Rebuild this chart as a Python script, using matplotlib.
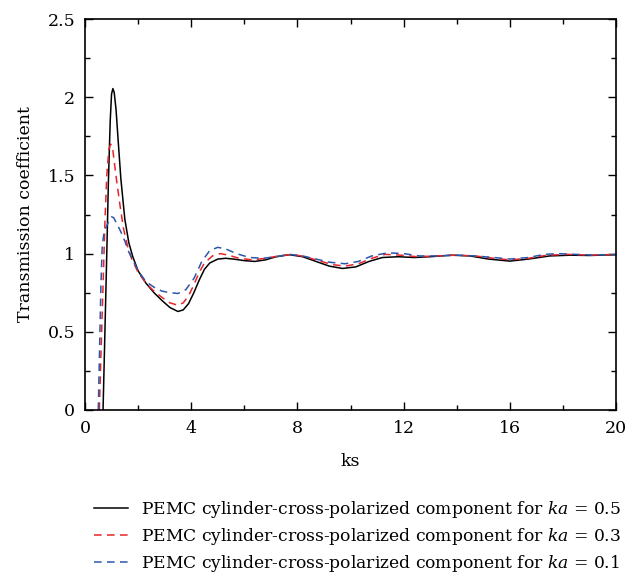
import matplotlib
matplotlib.use("Agg")
import matplotlib.pyplot as plt
from matplotlib.ticker import MultipleLocator

# valeurs (ks, coefficient de transmission)
ks_05 = [0.68, 0.75, 0.82, 0.88, 0.95, 1.0, 1.05, 1.1, 1.17, 1.25, 1.35, 1.5, 1.65, 1.8, 2.0,
         2.3, 2.6, 2.9, 3.2, 3.5, 3.7, 3.9, 4.1, 4.3, 4.5, 4.7, 5.0, 5.3, 5.6, 6.0, 6.4, 6.8,
         7.2, 7.7, 8.2, 8.7, 9.2, 9.7, 10.2, 10.7, 11.2, 11.8, 12.4, 13.0, 13.8, 14.5, 15.2,
         16.0, 16.7, 17.5, 18.3, 19.0, 20.0]
t_05 = [0.0, 0.5, 1.0, 1.45, 1.85, 2.02, 2.055, 2.03, 1.92, 1.72, 1.48, 1.22, 1.07, 0.98, 0.89,
        0.81, 0.75, 0.70, 0.655, 0.63, 0.64, 0.68, 0.75, 0.83, 0.90, 0.94, 0.965, 0.97, 0.965,
        0.955, 0.95, 0.96, 0.98, 0.993, 0.98, 0.95, 0.92, 0.905, 0.915, 0.95, 0.975, 0.98,
        0.975, 0.98, 0.99, 0.985, 0.965, 0.952, 0.965, 0.985, 0.99, 0.988, 0.993]

ks_03 = [0.54, 0.6, 0.68, 0.75, 0.82, 0.9, 0.97, 1.05, 1.15, 1.3, 1.45, 1.6, 1.75, 2.0, 2.3,
         2.6, 2.9, 3.2, 3.5, 3.7, 3.9, 4.1, 4.3, 4.5, 4.8, 5.1, 5.4, 5.8, 6.3, 6.8, 7.3, 7.8,
         8.3, 8.8, 9.3, 9.8, 10.3, 10.8, 11.3, 11.9, 12.5, 13.2, 14.0, 14.7, 15.4, 16.0, 16.7,
         17.4, 18.2, 19.0, 20.0]
t_03 = [0.0, 0.35, 0.8, 1.2, 1.5, 1.67, 1.70, 1.66, 1.52, 1.33, 1.16, 1.05, 0.97, 0.88, 0.81,
        0.76, 0.72, 0.685, 0.67, 0.685, 0.73, 0.80, 0.88, 0.94, 0.985, 1.0, 0.99, 0.97, 0.96,
        0.97, 0.985, 0.995, 0.98, 0.955, 0.93, 0.92, 0.935, 0.97, 0.995, 0.99, 0.98, 0.985,
        0.99, 0.985, 0.97, 0.96, 0.97, 0.99, 0.995, 0.99, 0.995]

ks_01 = [0.5, 0.55, 0.6, 0.65, 0.72, 0.8, 0.9, 1.0, 1.08, 1.2, 1.35, 1.5, 1.65, 1.8, 2.0, 2.3,
         2.6, 2.9, 3.2, 3.5, 3.8, 4.1, 4.4, 4.7, 5.0, 5.3, 5.7, 6.2, 6.7, 7.2, 7.7, 8.2, 8.7,
         9.2, 9.8, 10.3, 10.8, 11.4, 12.0, 12.6, 13.3, 14.0, 14.7, 15.4, 16.0, 16.7, 17.3,
         17.8, 18.5, 19.2, 20.0]
t_01 = [0.0, 0.4, 0.8, 1.05, 1.14, 1.17, 1.21, 1.235, 1.23, 1.19, 1.14, 1.08, 1.01, 0.96, 0.89,
        0.82, 0.785, 0.76, 0.75, 0.745, 0.77, 0.84, 0.95, 1.02, 1.04, 1.03, 1.0, 0.975, 0.97,
        0.98, 0.995, 0.985, 0.965, 0.945, 0.935, 0.95, 0.985, 1.005, 1.0, 0.985, 0.985, 0.99,
        0.985, 0.975, 0.965, 0.975, 0.995, 1.0, 0.995, 0.99, 0.995]

labels = ['PEMC cylinder-cross-polarized component for $ka$ = 0.5',
          'PEMC cylinder-cross-polarized component for $ka$ = 0.3',
          'PEMC cylinder-cross-polarized component for $ka$ = 0.1']

plt.rcParams['font.family'] = 'DejaVu Serif'
plt.rcParams['mathtext.fontset'] = 'dejavuserif'
plt.rcParams['font.size'] = 12.5

fig = plt.figure(figsize=(6.27, 5.82), dpi=100)
ax = fig.add_axes([85 / 627, 1 - 410 / 582, 531 / 627, 391 / 582])

ax.plot(ks_05, t_05, color='black', lw=1.1, label=labels[0])
ax.plot(ks_03, t_03, color='#e8252b', lw=1.1, ls=(0, (5, 3.5)), label=labels[1])
ax.plot(ks_01, t_01, color='#2d56a8', lw=1.1, ls=(0, (5, 3.5)), label=labels[2])

ax.set_xlim(0, 20)
ax.set_ylim(0, 2.5)
ax.xaxis.set_major_locator(MultipleLocator(4))
ax.xaxis.set_minor_locator(MultipleLocator(2))
ax.yaxis.set_major_locator(MultipleLocator(0.5))
ax.yaxis.set_minor_locator(MultipleLocator(0.25))
ax.yaxis.set_major_formatter(plt.FuncFormatter(lambda v, p: '%g' % v))
ax.tick_params(which='both', direction='in', top=True, right=True, width=1)
ax.tick_params(which='major', length=6, pad=7)
ax.tick_params(which='minor', length=3.5)
for s in ax.spines.values():
    s.set_linewidth(1.2)

ax.set_xlabel('ks', labelpad=12)
ax.set_ylabel('Transmission coefficient', labelpad=10)

# légende sous le graphique, sans cadre
fig.legend(loc='upper left', bbox_to_anchor=(85 / 627, 1 - 490 / 582), frameon=False,
           fontsize=12.3, handlelength=2.0, handletextpad=0.8, labelspacing=0.36, borderpad=0)

fig.savefig('out.png', dpi=100)
